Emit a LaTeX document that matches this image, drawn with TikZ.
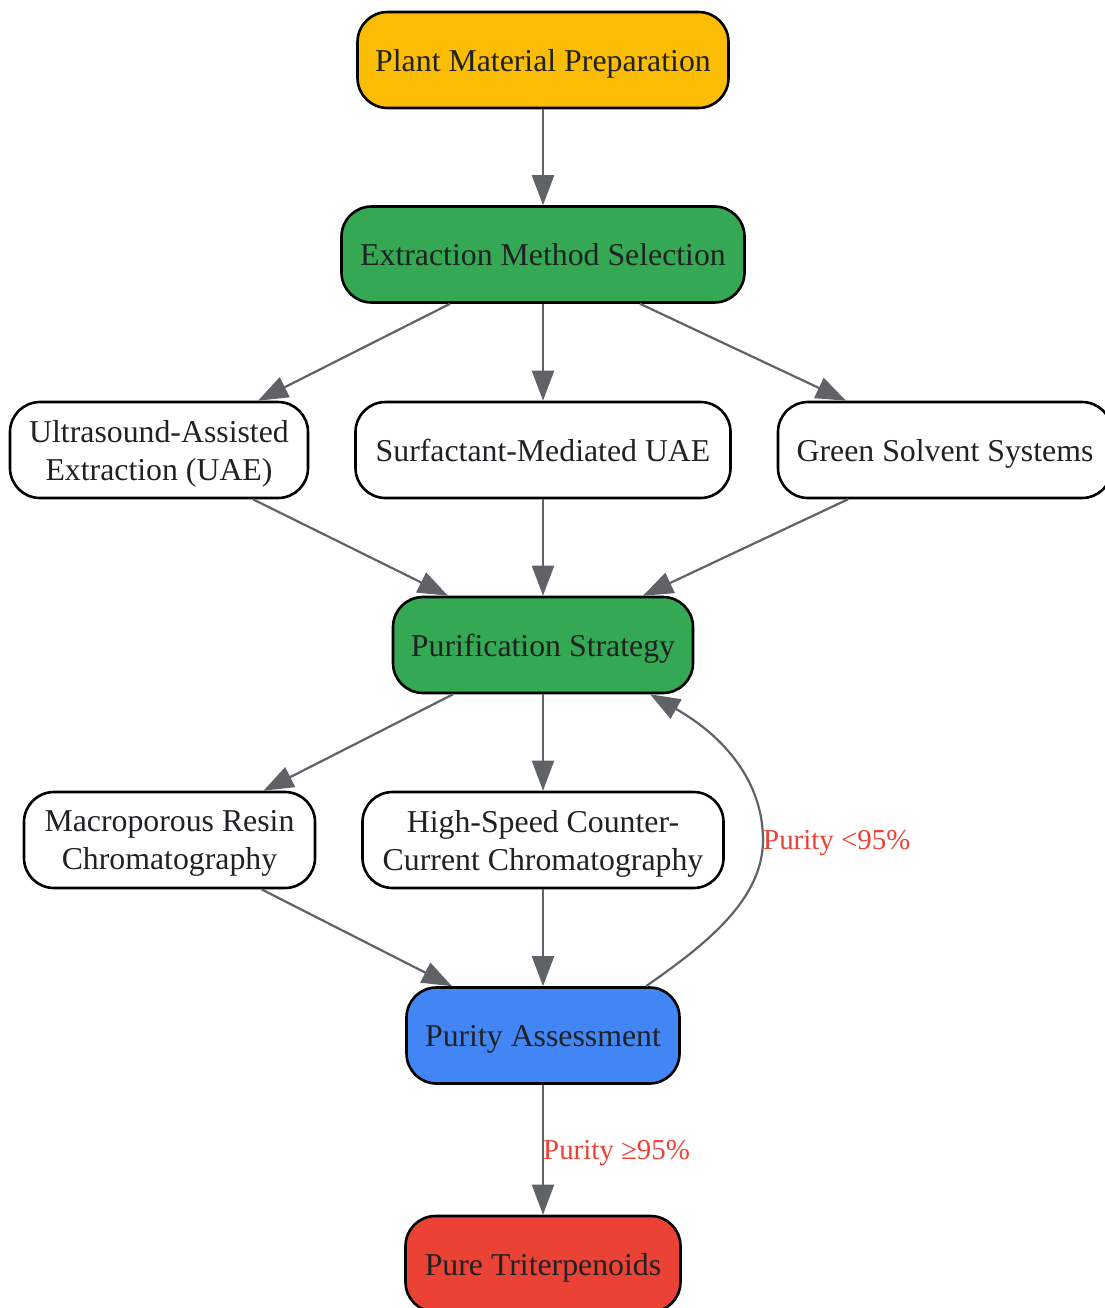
\documentclass[tikz,border=0pt]{standalone}
\usepackage{tikz}
\usepackage{xcolor}
\usepackage{fontspec}
\setmainfont{Liberation Serif}
\usetikzlibrary{arrows.meta}

\definecolor{stepyellow}{HTML}{FBBC04}
\definecolor{stepgreen}{HTML}{34A853}
\definecolor{stepblue}{HTML}{4285F4}
\definecolor{stepred}{HTML}{EA4335}
\definecolor{edgegray}{HTML}{5F6368}
\definecolor{textgray}{HTML}{202124}

\begin{document}
\begin{tikzpicture}[x=1pt,y=-1pt,
    box/.style={draw=black, line width=2.6pt, rounded corners=30pt, fill=white,
        minimum height=96pt, align=center, text=textgray, text depth=0pt,
        font=\fontsize{31.8}{38}\selectfont},
    flow/.style={draw=edgegray, line width=2.2pt, -{Triangle[length=30pt,width=22pt]}},
    edgelabel/.style={text=stepred, inner sep=0pt, anchor=west, text depth=0pt,
        font=\fontsize{28.9}{34}\selectfont}]
                \useasboundingbox (0,0) rectangle (1104,1308);

                % steps
                \node[box, fill=stepyellow, minimum width=371pt] (plant) at (543,60) {Plant Material Preparation};
                \node[box, fill=stepgreen, minimum width=403pt] (extract) at (543,254.5) {Extraction Method Selection};
                \node[box, minimum width=298pt] (uae) at (159,450) {Ultrasound-Assisted\\Extraction (UAE)};
                \node[box, minimum width=375pt] (surf) at (543,450) {Surfactant-Mediated UAE};
                \node[box, minimum width=334pt] (green) at (945,450) {Green Solvent Systems};
                \node[box, fill=stepgreen, minimum width=300pt] (purif) at (543,645) {Purification Strategy};
                \node[box, minimum width=291pt] (resin) at (169.5,840) {Macroporous Resin\\Chromatography};
                \node[box, minimum width=361pt] (hsccc) at (543,840) {High-Speed Counter-\\Current Chromatography};
                \node[box, fill=stepblue, minimum width=273pt] (assess) at (543,1035.5) {Purity Assessment};
                \node[box, fill=stepred, minimum width=275pt] (pure) at (543,1264) {Pure Triterpenoids};

                % connectors
                \draw[flow] (plant.south) -- (extract.north);
                \draw[flow] ([xshift=-93pt]extract.south) -- ([xshift=99pt]uae.north);
                \draw[flow] (extract.south) -- (surf.north);
                \draw[flow] ([xshift=97pt]extract.south) -- ([xshift=-99pt]green.north);
                \draw[flow] ([xshift=94pt]uae.south) -- ([xshift=-95pt]purif.north);
                \draw[flow] (surf.south) -- (purif.north);
                \draw[flow] ([xshift=-97pt]green.south) -- ([xshift=100pt]purif.north);
                \draw[flow] ([xshift=-90pt]purif.south) -- ([xshift=94pt]resin.north);
                \draw[flow] (purif.south) -- (hsccc.north);
                \draw[flow] ([xshift=92pt]resin.south) -- ([xshift=-91pt]assess.north);
                \draw[flow] (hsccc.south) -- (assess.north);
                \draw[flow] ([xshift=103pt]assess.north) .. controls (705,945) and (763,900) .. (763,840)
                    .. controls (763,780) and (722,735) .. ([xshift=107pt]purif.south);
                \draw[flow] (assess.south) -- (pure.north);

                % labels
                \node[edgelabel] (retry) at (763,840) {Purity <95\%};
                \node[edgelabel] (pass) at (543,1150) {Purity ≥95\%};
            \end{tikzpicture}
\end{document}
